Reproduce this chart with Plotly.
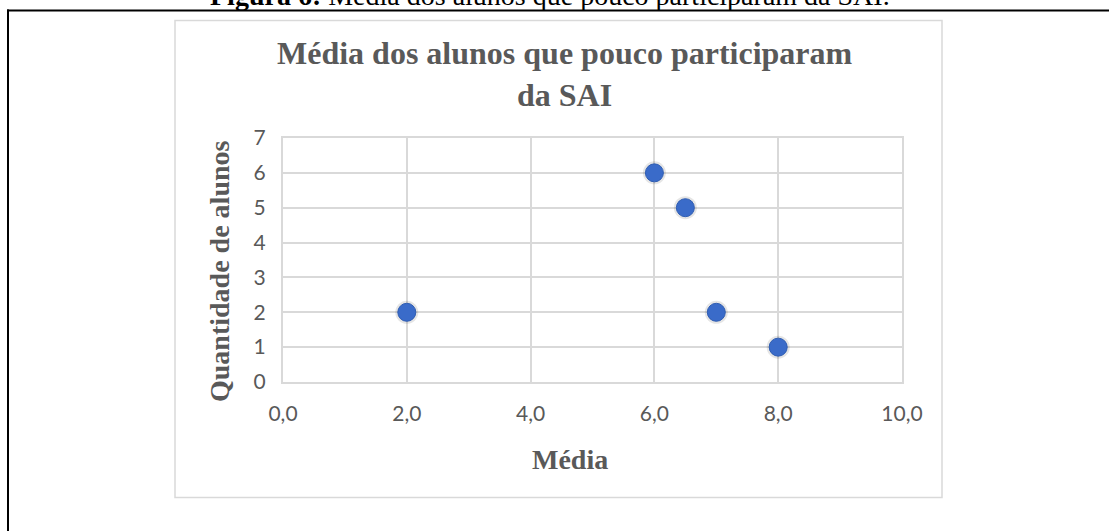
import plotly.graph_objects as go

# Scatter data: average grade vs. number of students
media = [2.0, 6.0, 6.5, 7.0, 8.0]
quantidade = [2, 6, 5, 2, 1]

x_ticks = [0, 2, 4, 6, 8, 10]
y_ticks = [0, 1, 2, 3, 4, 5, 6, 7]

caption_bold = "Figura 6:"
caption_text = "Média dos alunos que pouco participaram da SAI."
chart_title = "Média dos alunos que pouco participaram<br>da SAI"
x_title = "Média"
y_title = "Quantidade de alunos"

W, H = 1109, 531
L, R, T, B = 283, 902, 138, 382  # plot area in pixels

def px(x):
    return (x - L) / (R - L)

def py(y):
    return (B - y) / (B - T)

GRID = "#D9D9D9"
TEXT = "#595959"
SERIF = "Liberation Serif, Times New Roman, serif"
SANS = "Lato, Open Sans, sans-serif"

fig = go.Figure()

# soft halo under each point
fig.add_trace(go.Scatter(
    x=media, y=quantidade, mode="markers",
    marker=dict(size=23, color="rgba(0,0,0,0.10)", line=dict(width=0)),
    hoverinfo="skip", showlegend=False,
))
fig.add_trace(go.Scatter(
    x=media, y=quantidade, mode="markers",
    marker=dict(size=18, color="#3A6BC9", line=dict(width=1, color="#2F5DB2")),
    showlegend=False,
))

shapes = [
    # chart area frame
    dict(type="rect", xref="paper", yref="paper",
         x0=px(175), x1=px(942), y0=py(497.5), y1=py(20.5),
         line=dict(color=GRID, width=1.5), fillcolor="rgba(0,0,0,0)", layer="below"),
    # outer black rule lines
    dict(type="line", xref="paper", yref="paper",
         x0=px(7), x1=px(1112), y0=py(10.5), y1=py(10.5),
         line=dict(color="black", width=2)),
    dict(type="line", xref="paper", yref="paper",
         x0=px(8), x1=px(8), y0=py(9.5), y1=py(535),
         line=dict(color="black", width=2)),
]

annotations = [
    dict(text=f"<b>{caption_bold}</b> {caption_text}", xref="paper", yref="paper",
         x=px(550), y=py(-4), xanchor="center", yanchor="middle", showarrow=False,
         font=dict(family=SERIF, size=28, color="black")),
    dict(text=f"<b>{chart_title}</b>", xref="paper", yref="paper",
         x=px(565), y=py(74), xanchor="center", yanchor="middle", showarrow=False,
         font=dict(family=SERIF, size=32, color=TEXT)),
    dict(text=f"<b>{x_title}</b>", xref="paper", yref="paper",
         x=px(570), y=py(459), xanchor="center", yanchor="middle", showarrow=False,
         font=dict(family=SERIF, size=28, color=TEXT)),
    dict(text=f"<b>{y_title}</b>", xref="paper", yref="paper",
         x=px(219), y=py(271), xanchor="center", yanchor="middle", showarrow=False,
         textangle=-90, font=dict(family=SERIF, size=28, color=TEXT)),
]

fig.update_layout(
    width=W, height=H,
    margin=dict(l=L, r=W - R, t=T, b=H - B, pad=0),
    paper_bgcolor="white", plot_bgcolor="white",
    separators=",.",
    shapes=shapes,
    annotations=annotations,
    xaxis=dict(
        range=[0, 10], tickvals=x_ticks, tickformat=".1f",
        showgrid=True, gridcolor=GRID, gridwidth=2,
        showline=True, linecolor=GRID, linewidth=2, mirror=True,
        zeroline=False, ticks="", ticklabelstandoff=12,
        tickfont=dict(family=SANS, size=21, color=TEXT),
    ),
    yaxis=dict(
        range=[0, 7], tickvals=y_ticks,
        showgrid=True, gridcolor=GRID, gridwidth=2,
        showline=True, linecolor=GRID, linewidth=2, mirror=True,
        zeroline=False, ticks="", ticklabelstandoff=11,
        tickfont=dict(family=SANS, size=21, color=TEXT),
    ),
)

fig.write_html("out.html")
